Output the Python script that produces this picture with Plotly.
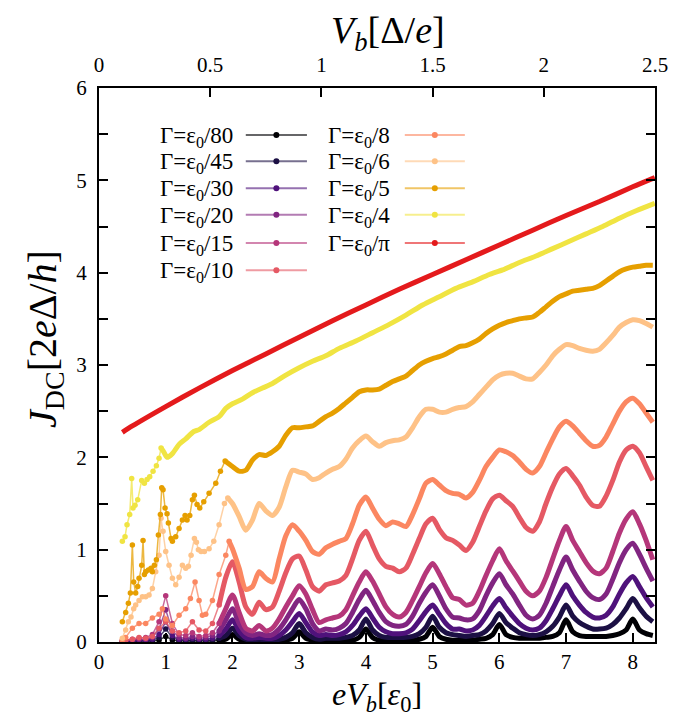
import plotly.graph_objects as go

# ---------------- data ----------------
G = [0.35, 0.4, 0.5, 0.6, 0.7, 0.8, 0.9, 1.0, 1.1, 1.2,
     1.3, 1.4, 1.5, 1.6, 1.7, 1.8, 1.9, 2.0, 2.1, 2.2,
     2.3, 2.4, 2.5, 2.6, 2.7, 2.8, 2.9, 3.0, 3.1, 3.2,
     3.3, 3.4, 3.5, 3.6, 3.7, 3.8, 3.9, 4.0, 4.1, 4.2,
     4.3, 4.4, 4.5, 4.6, 4.7, 4.8, 4.9, 5.0, 5.1, 5.2,
     5.3, 5.4, 5.5, 5.6, 5.7, 5.8, 5.9, 6.0, 6.1, 6.2,
     6.3, 6.4, 6.5, 6.6, 6.7, 6.8, 6.9, 7.0, 7.1, 7.2,
     7.3, 7.4, 7.5, 7.6, 7.7, 7.8, 7.9, 8.0, 8.1, 8.2,
     8.3]
G_FROM_2 = G[17:]

y_80 = [0.00, 0.00, 0.01, 0.01, 0.01, 0.01, 0.02, 0.06, 0.02, 0.01,
        0.01, 0.01, 0.01, 0.01, 0.01, 0.02, 0.03, 0.08, 0.03, 0.01,
        0.01, 0.01, 0.01, 0.01, 0.01, 0.02, 0.04, 0.11, 0.04, 0.02,
        0.01, 0.01, 0.01, 0.01, 0.02, 0.02, 0.05, 0.14, 0.05, 0.02,
        0.02, 0.01, 0.01, 0.02, 0.02, 0.03, 0.06, 0.16, 0.06, 0.03,
        0.02, 0.02, 0.02, 0.02, 0.03, 0.04, 0.08, 0.19, 0.08, 0.05,
        0.04, 0.04, 0.04, 0.04, 0.05, 0.06, 0.10, 0.24, 0.11, 0.07,
        0.06, 0.06, 0.06, 0.06, 0.07, 0.09, 0.13, 0.25, 0.13, 0.09,
        0.07]
y_45 = [0.00, 0.01, 0.01, 0.01, 0.01, 0.02, 0.05, 0.14, 0.05, 0.02,
        0.02, 0.02, 0.02, 0.02, 0.02, 0.04, 0.07, 0.15, 0.07, 0.03,
        0.02, 0.03, 0.02, 0.02, 0.03, 0.05, 0.10, 0.20, 0.10, 0.05,
        0.03, 0.04, 0.04, 0.04, 0.05, 0.07, 0.13, 0.25, 0.13, 0.07,
        0.05, 0.05, 0.05, 0.05, 0.06, 0.09, 0.16, 0.28, 0.16, 0.10,
        0.08, 0.07, 0.06, 0.07, 0.08, 0.12, 0.20, 0.31, 0.21, 0.15,
        0.10, 0.08, 0.07, 0.08, 0.11, 0.17, 0.27, 0.40, 0.28, 0.21,
        0.17, 0.14, 0.14, 0.15, 0.19, 0.26, 0.36, 0.47, 0.37, 0.28,
        0.22]
y_30 = [0.00, 0.01, 0.01, 0.02, 0.02, 0.03, 0.08, 0.22, 0.07, 0.03,
        0.03, 0.04, 0.03, 0.03, 0.04, 0.07, 0.14, 0.24, 0.12, 0.05,
        0.04, 0.05, 0.04, 0.04, 0.07, 0.13, 0.22, 0.31, 0.21, 0.11,
        0.07, 0.08, 0.07, 0.08, 0.11, 0.18, 0.28, 0.36, 0.26, 0.16,
        0.11, 0.09, 0.09, 0.10, 0.14, 0.23, 0.33, 0.40, 0.30, 0.20,
        0.14, 0.14, 0.12, 0.13, 0.18, 0.28, 0.39, 0.47, 0.37, 0.28,
        0.20, 0.15, 0.13, 0.15, 0.23, 0.36, 0.50, 0.62, 0.50, 0.40,
        0.32, 0.27, 0.26, 0.29, 0.38, 0.52, 0.64, 0.71, 0.60, 0.48,
        0.38]
y_20 = [0.01, 0.01, 0.02, 0.03, 0.03, 0.05, 0.14, 0.35, 0.12, 0.05,
        0.04, 0.06, 0.04, 0.05, 0.07, 0.12, 0.24, 0.36, 0.20, 0.10,
        0.07, 0.09, 0.07, 0.08, 0.14, 0.24, 0.36, 0.46, 0.36, 0.20,
        0.12, 0.14, 0.13, 0.15, 0.20, 0.32, 0.46, 0.56, 0.45, 0.32,
        0.22, 0.18, 0.17, 0.19, 0.28, 0.42, 0.54, 0.62, 0.50, 0.36,
        0.27, 0.26, 0.24, 0.25, 0.34, 0.50, 0.64, 0.74, 0.62, 0.52,
        0.40, 0.29, 0.25, 0.29, 0.42, 0.60, 0.78, 0.92, 0.78, 0.66,
        0.55, 0.48, 0.46, 0.52, 0.68, 0.86, 1.00, 1.07, 0.95, 0.80,
        0.66]
y_15 = [0.01, 0.02, 0.03, 0.04, 0.05, 0.08, 0.22, 0.50, 0.20, 0.08,
        0.07, 0.10, 0.06, 0.07, 0.10, 0.20, 0.36, 0.51, 0.32, 0.15,
        0.12, 0.18, 0.12, 0.15, 0.25, 0.38, 0.50, 0.61, 0.52, 0.35,
        0.21, 0.24, 0.26, 0.28, 0.35, 0.50, 0.65, 0.76, 0.66, 0.52,
        0.38, 0.30, 0.27, 0.32, 0.45, 0.60, 0.75, 0.85, 0.74, 0.60,
        0.48, 0.46, 0.40, 0.42, 0.55, 0.72, 0.88, 1.01, 0.88, 0.77,
        0.66, 0.55, 0.50, 0.55, 0.70, 0.90, 1.10, 1.25, 1.10, 0.98,
        0.86, 0.77, 0.74, 0.80, 0.98, 1.18, 1.33, 1.41, 1.28, 1.10,
        0.89]
y_10 = [0.01, 0.02, 0.03, 0.05, 0.04, 0.06, 0.15, 0.22, 0.12, 0.10,
        0.12, 0.22, 0.13, 0.12, 0.20, 0.40, 0.70, 0.87, 0.65, 0.38,
        0.30, 0.43, 0.35, 0.38, 0.55, 0.75, 0.90, 0.93, 0.78, 0.60,
        0.55, 0.62, 0.64, 0.66, 0.72, 0.90, 1.10, 1.20, 1.05, 0.90,
        0.82, 0.80, 0.76, 0.80, 0.95, 1.12, 1.28, 1.34, 1.22, 1.13,
        1.10, 1.05, 0.99, 1.08, 1.25, 1.42, 1.55, 1.59, 1.53, 1.47,
        1.35, 1.24, 1.20, 1.30, 1.50, 1.68, 1.82, 1.88, 1.80, 1.70,
        1.57, 1.48, 1.47, 1.58, 1.75, 1.95, 2.08, 2.12, 2.05, 1.90,
        1.75]

x_8_low = [0.35, 0.4, 0.5, 0.6, 0.7, 0.8, 0.9, 0.95, 1.0, 1.1,
           1.2, 1.3, 1.37, 1.44, 1.5, 1.55, 1.6, 1.7, 1.8, 1.9, 1.95]
y_8_low = [0.02, 0.05, 0.15, 0.20, 0.20, 0.26, 0.30, 0.36, 0.25, 0.18,
           0.29, 0.36, 0.47, 0.65, 0.45, 0.29, 0.30, 0.45, 0.73, 0.94, 1.09]
y_8_high = [1.01, 0.80, 0.57, 0.60, 0.76, 0.69, 0.65, 0.90, 1.15, 1.27,
            1.20, 1.10, 0.98, 0.95, 1.02, 1.06, 1.09, 1.12, 1.28, 1.48,
            1.57, 1.45, 1.33, 1.26, 1.30, 1.28, 1.25, 1.38, 1.55, 1.72,
            1.76, 1.70, 1.64, 1.61, 1.60, 1.56, 1.62, 1.75, 1.90, 2.00,
            2.08, 2.06, 2.02, 1.95, 1.87, 1.83, 1.90, 2.05, 2.20, 2.33,
            2.39, 2.34, 2.26, 2.18, 2.12, 2.13, 2.22, 2.36, 2.50, 2.60,
            2.64, 2.58, 2.48, 2.38]

x_6_low = [0.35, 0.4, 0.44, 0.48, 0.52, 0.55, 0.6, 0.65, 0.7, 0.75,
           0.8, 0.85, 0.9, 0.93, 0.96, 1.0, 1.05, 1.1, 1.15, 1.2,
           1.25, 1.3, 1.34, 1.38, 1.43, 1.46, 1.49, 1.53, 1.58, 1.65,
           1.72, 1.8, 1.88, 1.93]
y_6_low = [0.04, 0.13, 0.22, 0.27, 0.36, 0.40, 0.45, 0.49, 0.49, 0.51,
           0.58, 0.76, 0.94, 1.34, 1.20, 0.98, 0.83, 0.69, 0.62, 0.70,
           0.83, 0.80, 0.82, 0.94, 1.12, 1.08, 1.00, 0.98, 0.98, 1.01,
           1.09, 1.27, 1.50, 1.56]
y_6_high = [1.50, 1.36, 1.21, 1.32, 1.50, 1.42, 1.37, 1.46, 1.68, 1.86,
            1.84, 1.82, 1.76, 1.78, 1.83, 1.87, 1.90, 1.98, 2.10, 2.18,
            2.23, 2.17, 2.12, 2.16, 2.18, 2.19, 2.22, 2.32, 2.44, 2.52,
            2.52, 2.49, 2.49, 2.52, 2.54, 2.55, 2.60, 2.68, 2.76, 2.84,
            2.89, 2.91, 2.91, 2.88, 2.85, 2.85, 2.92, 3.00, 3.10, 3.17,
            3.22, 3.21, 3.18, 3.16, 3.15, 3.17, 3.24, 3.32, 3.41, 3.46,
            3.49, 3.48, 3.45, 3.41]

x_5_low = [0.35, 0.4, 0.44, 0.47, 0.5, 0.52, 0.55, 0.58, 0.6, 0.64,
           0.66, 0.68, 0.7, 0.74, 0.78, 0.8, 0.83, 0.86, 0.89, 0.92,
           0.94, 0.96, 0.99, 1.02, 1.04, 1.08, 1.1, 1.15, 1.2, 1.25,
           1.29, 1.32, 1.36, 1.4, 1.43, 1.47, 1.51, 1.57, 1.65, 1.75,
           1.82, 1.89]
y_5_low = [0.22, 0.32, 0.42, 0.53, 1.05, 0.65, 0.53, 0.60, 0.69, 0.83,
           1.10, 0.73, 0.76, 0.78, 0.80, 0.76, 0.83, 0.89, 1.16, 1.38,
           1.67, 1.65, 1.45, 1.39, 1.29, 1.12, 1.09, 1.14, 1.23, 1.32,
           1.37, 1.32, 1.37, 1.54, 1.59, 1.49, 1.45, 1.52, 1.61, 1.72,
           1.85, 1.96]
y_5_high = [1.90, 1.85, 1.86, 1.97, 2.03, 2.02, 2.06, 2.12, 2.24, 2.32,
            2.32, 2.33, 2.34, 2.39, 2.44, 2.48, 2.53, 2.59, 2.65, 2.71,
            2.73, 2.73, 2.74, 2.78, 2.82, 2.85, 2.88, 2.94, 3.00, 3.04,
            3.07, 3.09, 3.12, 3.16, 3.20, 3.21, 3.24, 3.28, 3.34, 3.39,
            3.43, 3.46, 3.48, 3.50, 3.51, 3.52, 3.57, 3.63, 3.69, 3.74,
            3.77, 3.80, 3.81, 3.82, 3.83, 3.86, 3.91, 3.96, 4.01, 4.04,
            4.06, 4.07, 4.08, 4.08]

x_4 = [0.35, 0.39, 0.42, 0.46, 0.49, 0.51, 0.54, 0.58, 0.64, 0.68,
       0.72, 0.76, 0.81, 0.86, 0.9, 0.93, 0.97,
       1.02, 1.1, 1.2, 1.3, 1.42, 1.5, 1.65, 1.8, 1.9, 2.0,
       2.15, 2.3, 2.45, 2.6, 2.8, 3.0, 3.2, 3.4, 3.6, 3.85,
       4.1, 4.35, 4.6, 4.85, 5.1, 5.35, 5.6, 5.85, 6.05, 6.3,
       6.55, 6.8, 7.05, 7.3, 7.55, 7.8, 8.05, 8.33]
y_4 = [1.09, 1.14, 1.27, 1.38, 1.77, 1.45, 1.48, 1.54, 1.75, 1.72,
       1.76, 1.79, 1.85, 1.91, 1.99, 2.10, 2.06,
       2.00, 2.04, 2.14, 2.20, 2.28, 2.30, 2.38, 2.44, 2.53, 2.58,
       2.63, 2.70, 2.75, 2.80, 2.89, 2.97, 3.04, 3.10, 3.18, 3.26,
       3.35, 3.44, 3.54, 3.65, 3.74, 3.83, 3.90, 3.98, 4.03, 4.11,
       4.18, 4.26, 4.34, 4.42, 4.50, 4.59, 4.67, 4.75]

x_pi = [0.35, 0.5, 1.0, 1.5, 2.0, 2.5, 3.0, 3.5, 4.0, 4.5,
        5.0, 5.5, 6.0, 6.5, 7.0, 7.5, 8.0, 8.33]
y_pi = [2.27, 2.34, 2.55, 2.75, 2.94, 3.12, 3.30, 3.48, 3.65, 3.82,
        3.98, 4.14, 4.30, 4.46, 4.62, 4.77, 4.93, 5.03]

labels = ["80", "45", "30", "20", "15", "10", "8", "6", "5", "4", "π"]
colors = ["#000004", "#1c1044", "#4f127b", "#812581", "#b5367a", "#e55964",
          "#fb8761", "#fec287", "#e69f00", "#f0e442", "#e41a1c"]
xs = [G, G, G, G, G, G, x_8_low + G_FROM_2, x_6_low + G_FROM_2,
      x_5_low + G_FROM_2, x_4, x_pi]
ys = [y_80, y_45, y_30, y_20, y_15, y_10, y_8_low + y_8_high,
      y_6_low + y_6_high, y_5_low + y_5_high, y_4, y_pi]
# where the sparse marker region ends and the dense (solid) part begins
splits = [1.8, 1.8, 1.8, 1.8, 1.8, 1.8, 1.95, 1.93, 1.89, 0.93, 0.0]

xtick_vals = [0, 1, 2, 3, 4, 5, 6, 7, 8]
top_tick_vals = [0, 0.5, 1, 1.5, 2, 2.5]
top_tick_text = ["0", "0.5", "1", "1.5", "2", "2.5"]
ytick_vals = [0, 0.5, 1, 1.5, 2, 2.5, 3, 3.5, 4, 4.5, 5, 5.5, 6]
ytick_text = ["0", "", "1", "", "2", "", "3", "", "4", "", "5", "", "6"]


def rgba(hexc, a):
    h = hexc.lstrip("#")
    r, g, b = int(h[0:2], 16), int(h[2:4], 16), int(h[4:6], 16)
    return f"rgba({r},{g},{b},{a})"


fig = go.Figure()
SERIF = "Liberation Serif"

for lab, col, x, y, s in zip(labels, colors, xs, ys, splits):
    thin = [(a, b) for a, b in zip(x, y) if a <= s]
    thick = [(a, b) for a, b in zip(x, y) if a >= s]
    if len(thin) > 1:
        fig.add_trace(go.Scatter(
            x=[p[0] for p in thin], y=[p[1] for p in thin], mode="lines+markers",
            line=dict(color=rgba(col, 0.75), width=1.5),
            marker=dict(color=col, size=5.5), showlegend=False, hoverinfo="skip"))
    fig.add_trace(go.Scatter(
        x=[p[0] for p in thick], y=[p[1] for p in thick], mode="lines",
        line=dict(color=col, width=5, shape="spline", smoothing=0.7),
        showlegend=False, hoverinfo="skip"))

# dummy trace to attach the top axis
fig.add_trace(go.Scatter(x=[0, 2.5], y=[None, None], xaxis="x2", yaxis="y",
                         mode="lines", showlegend=False, hoverinfo="skip"))

# ---------------- manual two-column legend (hidden unit axes) ----------------
row_y = [0.915, 0.868, 0.819, 0.771, 0.720, 0.671]
col_text_x = [0.2446, 0.527]
col_line = [(0.264, 0.374), (0.550, 0.658)]
for i, (lab, col) in enumerate(zip(labels, colors)):
    c = 0 if i < 6 else 1
    r = i if i < 6 else i - 6
    yy = row_y[r]
    x0, x1 = col_line[c]
    fig.add_trace(go.Scatter(x=[x0, x1], y=[yy, yy], xaxis="x3", yaxis="y3",
                             mode="lines", line=dict(color=rgba(col, 0.6), width=2),
                             showlegend=False, hoverinfo="skip"))
    fig.add_trace(go.Scatter(x=[(x0 + x1) / 2], y=[yy], xaxis="x3", yaxis="y3",
                             mode="markers", marker=dict(color=col, size=6),
                             showlegend=False, hoverinfo="skip"))
    fig.add_annotation(x=col_text_x[c], y=yy, xref="paper", yref="paper",
                       text=f"Γ=ε<sub>0</sub>/{lab}", showarrow=False,
                       xanchor="right", yanchor="middle", yshift=-2,
                       font=dict(family=SERIF, size=23, color="black"))

# ---------------- axis titles ----------------
fig.add_annotation(x=0.5, y=-0.1390, xref="paper", yref="paper",
                   text="<i>eV<sub>b</sub></i>[<i>ε</i><sub>0</sub>]", showarrow=False,
                   xanchor="center", yanchor="bottom",
                   font=dict(family=SERIF, size=32, color="black"))
fig.add_annotation(x=0.52, y=1.099, xref="paper", yref="paper",
                   text="<i>V<sub>b</sub></i>[Δ/<i>e</i>]", showarrow=False,
                   xanchor="center", yanchor="middle",
                   font=dict(family=SERIF, size=38, color="black"))
fig.add_annotation(x=-0.097, y=0.547, xref="paper", yref="paper",
                   text="<i>J</i><sub>DC</sub>[2<i>e</i>Δ/<i>h</i>]", showarrow=False,
                   textangle=-90, xanchor="center", yanchor="middle",
                   font=dict(family=SERIF, size=40, color="black"))

axis_common = dict(showgrid=False, zeroline=False, showline=True, linecolor="black",
                   linewidth=2, ticks="inside", tickcolor="black", tickwidth=2,
                   ticklen=9, tickfont=dict(family=SERIF, size=21, color="black"))

fig.update_layout(
    width=693, height=718,
    margin=dict(l=91, r=46, t=80, b=84),
    paper_bgcolor="white", plot_bgcolor="white",
    font=dict(family=SERIF, color="black"),
    showlegend=False,
    xaxis=dict(range=[0, 8.333], tickvals=xtick_vals, mirror=True,
               ticklabelstandoff=0, **axis_common),
    xaxis2=dict(range=[0, 2.5], overlaying="x", side="top", anchor="y",
                tickvals=top_tick_vals, ticktext=top_tick_text,
                ticklabelstandoff=6, **axis_common),
    yaxis=dict(range=[0, 6], tickvals=ytick_vals, ticktext=ytick_text,
               mirror="ticks", ticklabelstandoff=6, **axis_common),
    xaxis3=dict(range=[0, 1], overlaying="x", anchor="y3", visible=False),
    yaxis3=dict(range=[0, 1], overlaying="y", anchor="x3", visible=False),
)

fig.write_html("out.html")
